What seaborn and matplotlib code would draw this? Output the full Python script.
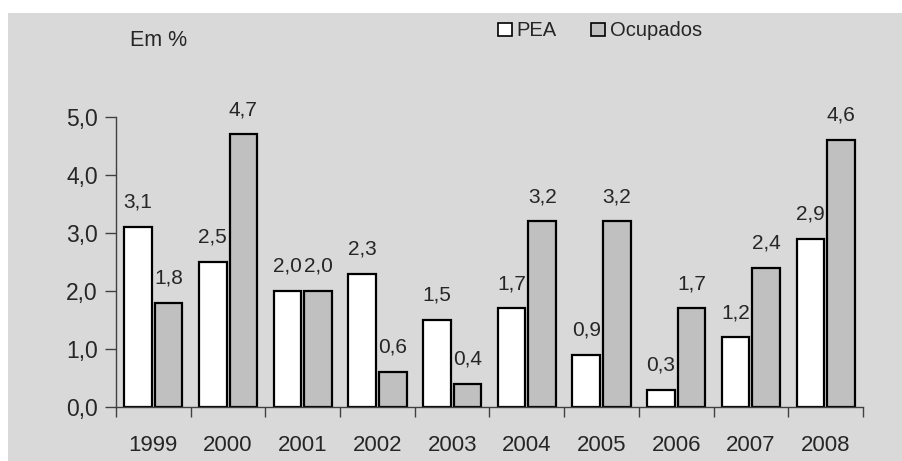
import matplotlib
matplotlib.use("Agg")
import matplotlib.pyplot as plt
import matplotlib.patches as mpatches
import pandas as pd
import seaborn as sns

#####################################
# Data
#####################################

years = ["1999", "2000", "2001", "2002", "2003", "2004", "2005", "2006", "2007", "2008"]
pea = [3.1, 2.5, 2.0, 2.3, 1.5, 1.7, 0.9, 0.3, 1.2, 2.9]
ocupados = [1.8, 4.7, 2.0, 0.6, 0.4, 3.2, 3.2, 1.7, 2.4, 4.6]
series_names = ["PEA", "Ocupados"]
y_ticks = [0.0, 1.0, 2.0, 3.0, 4.0, 5.0]

df = pd.DataFrame({
    "ano": years * 2,
    "valor": pea + ocupados,
    "serie": [series_names[0]] * len(years) + [series_names[1]] * len(years),
})


def comma(v):
    return f"{v:.1f}".replace(".", ",")


#####################################
# Plot
#####################################

sns.set_style("ticks")
plt.rcParams["font.family"] = ["Liberation Sans", "DejaVu Sans"]

bg = "#D9D9D9"
fig = plt.figure(figsize=(9.03, 4.61), dpi=100, facecolor="white")
fig.patches.append(mpatches.Rectangle((8 / 903, 0), 1, 1 - 13 / 461,
                                      transform=fig.transFigure,
                                      facecolor=bg, edgecolor="none", zorder=-10))
ax = fig.add_axes([116 / 903, 1 - 407 / 461, (863 - 116) / 903, (407 - 117) / 461])
ax.set_facecolor("none")

sns.barplot(data=df, x="ano", y="valor", hue="serie",
            palette=["white", "#C0C0C0"], edgecolor="black", linewidth=1.6,
            width=0.82, gap=0.1, ax=ax, legend=False)

for cont in ax.containers:
    vals = [b.get_height() for b in cont]
    ax.bar_label(cont, labels=[comma(v) for v in vals], padding=11,
                 fontsize=15, clip_on=False)

ax.set_ylim(0, 5)
ax.set_xlim(-0.5, len(years) - 0.5)
ax.set_yticks(y_ticks)
ax.set_yticklabels([comma(v) for v in y_ticks], fontsize=16.5)
ax.set_xticks([i - 0.5 for i in range(len(years) + 1)])
ax.set_xticklabels([])
ax.set_xticks(range(len(years)), minor=True)
ax.set_xticklabels(years, minor=True, fontsize=16)
ax.tick_params(axis="x", which="minor", length=0, pad=20)
ax.tick_params(axis="x", which="major", length=7, color="#404040", width=1)
ax.tick_params(axis="y", length=8, color="#404040", width=1, pad=5)
ax.set_xlabel("")
ax.set_ylabel("")
sns.despine(ax=ax)
for s in ["left", "bottom"]:
    ax.spines[s].set_color("#404040")
    ax.spines[s].set_linewidth(1)

fig.text(130 / 903, 1 - 41 / 461, "Em %", fontsize=15.5, va="center", ha="left")

handles = [mpatches.Patch(facecolor="white", edgecolor="black", linewidth=1.2, label=series_names[0]),
           mpatches.Patch(facecolor="#C0C0C0", edgecolor="black", linewidth=1.2, label=series_names[1])]
fig.legend(handles=handles, loc="center", bbox_to_anchor=(600 / 903, 1 - 31 / 461),
           ncol=2, frameon=False, fontsize=14.5, handlelength=0.7, handleheight=0.65,
           handletextpad=0.25, columnspacing=1.7, borderpad=0)

fig.savefig("out.png", dpi=100, facecolor="white")
